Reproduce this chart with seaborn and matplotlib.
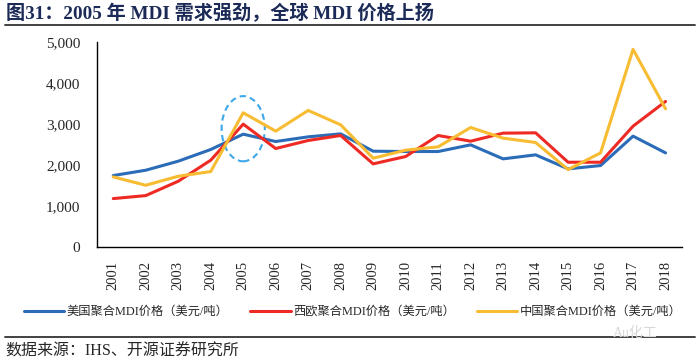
import pandas as pd
import seaborn as sns
import matplotlib.pyplot as plt
from matplotlib.patches import Ellipse
from matplotlib.ticker import FuncFormatter

sns.set_style("white")
plt.rcParams["font.family"] = ["Liberation Serif", "Noto Sans CJK SC", "DejaVu Sans"]

years = [str(y) for y in range(2001, 2019)]
us_price = [1743, 1873, 2093, 2378, 2752, 2573, 2687, 2760, 2337, 2329,
            2329, 2492, 2150, 2248, 1906, 1987, 2704, 2296]
eu_price = [1181, 1254, 1604, 2117, 2997, 2402, 2598, 2720, 2028, 2207,
            2720, 2581, 2777, 2785, 2068, 2068, 2948, 3550]
cn_price = [1710, 1506, 1726, 1840, 3274, 2826, 3331, 2980, 2166, 2362,
            2443, 2915, 2655, 2549, 1889, 2296, 4821, 3371]
series_names = ["美国聚合MDI价格（美元/吨）", "西欧聚合MDI价格（美元/吨）", "中国聚合MDI价格（美元/吨）"]
colors = ["#2B6CB8", "#EE2A24", "#F8BC32"]

rows = []
for name, vals in zip(series_names, [us_price, eu_price, cn_price]):
    for i, v in enumerate(vals):
        rows.append({"pos": i, "year": years[i], "price": v, "series": name})
df = pd.DataFrame(rows)


def plot_chart(df):
    fig = plt.figure(figsize=(7, 3.64), dpi=100)
    ax = fig.add_axes([0.1386, 0.3214, 0.8354, 0.5632])

    sns.lineplot(data=df, x="pos", y="price", hue="series", palette=colors,
                 hue_order=series_names, linewidth=2.2, ax=ax, legend=False)

    ax.set_xlim(-0.5, len(years) - 0.5)
    ax.set_ylim(0, 5000)
    ax.set_yticks(range(0, 5001, 1000))
    ax.yaxis.set_major_formatter(FuncFormatter(lambda v, p: f"{int(v):,}"))
    ax.set_xticks(range(len(years)))
    ax.set_xticklabels(years, rotation=90, fontsize=10.5)
    ax.set_xticks([i - 0.5 for i in range(len(years) + 1)], minor=True)
    ax.tick_params(axis="x", which="major", length=0, pad=10)
    ax.tick_params(axis="x", which="minor", length=4, width=1, direction="out", color="black")
    ax.tick_params(axis="y", length=0, labelsize=11, pad=12)
    ax.set_xlabel("")
    ax.set_ylabel("")
    for s in ["top", "right"]:
        ax.spines[s].set_visible(False)
    for s in ["left", "bottom"]:
        ax.spines[s].set_color("black")
        ax.spines[s].set_linewidth(1)
    ax.grid(False)

    ax.add_patch(Ellipse((4, 2885), 1.33, 1590, fill=False, edgecolor="#3DA8E8",
                         linestyle=(0, (3, 2)), linewidth=1.5))

    handles = [plt.Line2D([], [], color=c, linewidth=2.2) for c in colors]
    fig.legend(handles, series_names, loc="center", bbox_to_anchor=(0.504, 0.143),
               ncol=3, frameon=False, fontsize=8.8, handlelength=3.3,
               columnspacing=1.8, handletextpad=0.2)

    fig.text(0.008, 0.963, "图31：2005 年 MDI 需求强劲，全球 MDI 价格上扬",
             fontsize=13.8, fontweight="bold", color="#1B2A57", va="center")
    fig.add_artist(plt.Line2D([0.007, 0.993], [0.931, 0.931], color="#333333", linewidth=1.3))
    fig.add_artist(plt.Line2D([0.007, 0.993], [0.073, 0.073], color="#333333", linewidth=1.3))
    fig.text(0.008, 0.033, "数据来源：IHS、开源证券研究所", fontsize=11.5, va="center")
    fig.text(0.876, 0.085, "Au化工", fontsize=10, color="#D8D8D8", va="center")

    fig.savefig("out.png", dpi=100)


plot_chart(df)
